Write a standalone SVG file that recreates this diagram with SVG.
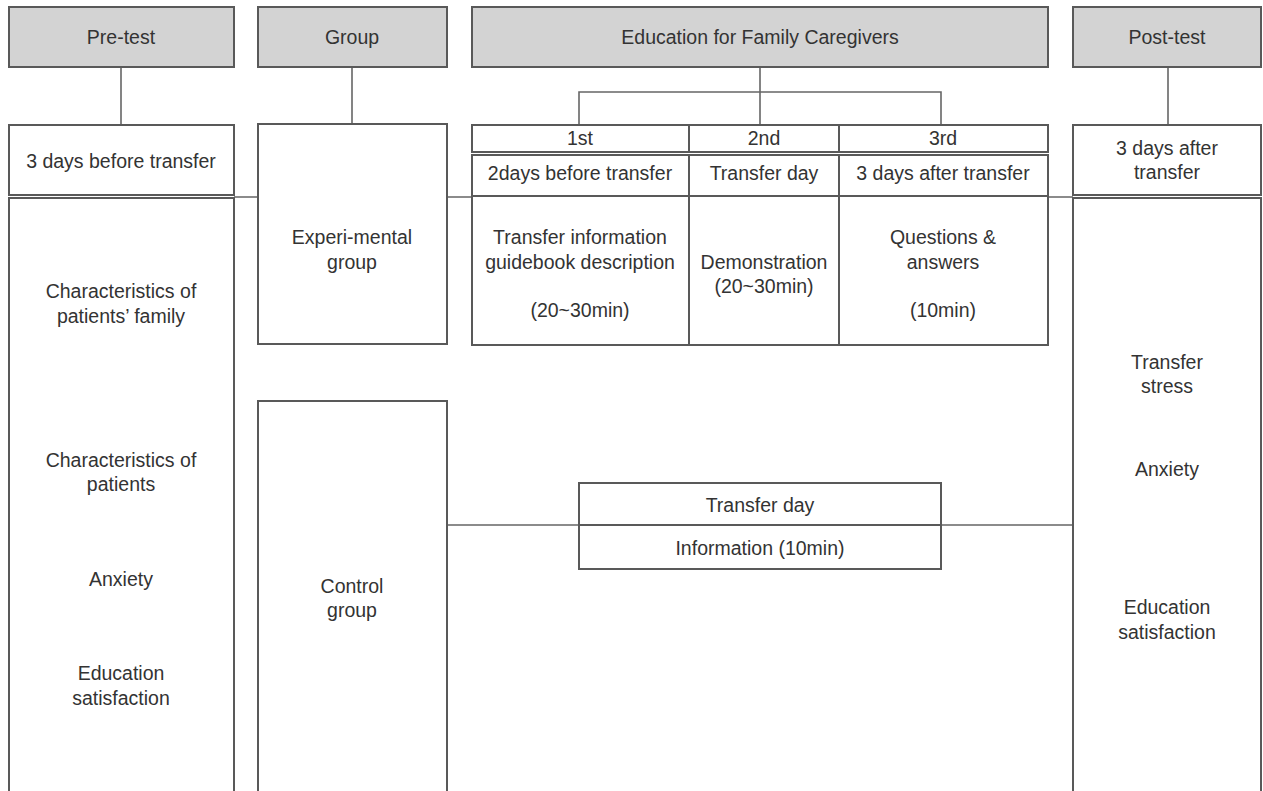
<svg xmlns="http://www.w3.org/2000/svg" width="1263" height="791" viewBox="0 0 1263 791">
<style>
.hd{fill:#d3d3d3;stroke:#595959;stroke-width:2}
.bx{fill:#ffffff;stroke:#595959;stroke-width:2}
.ln{fill:none;stroke:#666;stroke-width:1.6}
text{font-family:"Liberation Sans",Arial,sans-serif;font-size:19.5px;fill:#333;text-anchor:middle}
</style>
<rect width="1263" height="791" fill="#fff"/>
<g id="connectors">
<path class="ln" d="M121 67V125M352 67V124M760 67V124M579 125V92H941V125M1168 67V125"/>
<path class="ln" d="M234 197H258M447 197H472M1048 197H1073M447 525H579M941 525H1073"/>
</g>
<g id="pretest-header"><rect class="hd" x="9" y="7" width="225" height="60"/><text x="121" y="44">Pre-test</text></g>
<g id="group-header"><rect class="hd" x="258" y="7" width="189" height="60"/><text x="352" y="44">Group</text></g>
<g id="education-header"><rect class="hd" x="472" y="7" width="576" height="60"/><text x="760" y="44">Education for Family Caregivers</text></g>
<g id="posttest-header"><rect class="hd" x="1073" y="7" width="188" height="60"/><text x="1167" y="44">Post-test</text></g>
<g id="pretest-time"><rect class="bx" x="9" y="125" width="225" height="70"/><text x="121" y="168">3 days before transfer</text></g>
<g id="pretest-vars"><rect class="bx" x="9" y="198" width="225" height="620"/>
<text x="121" y="298">Characteristics of</text><text x="121" y="323">patients’ family</text>
<text x="121" y="467">Characteristics of</text><text x="121" y="491">patients</text>
<text x="121" y="586">Anxiety</text>
<text x="121" y="680">Education</text><text x="121" y="705">satisfaction</text></g>
<g id="experimental-group"><rect class="bx" x="258" y="124" width="189" height="220"/><text x="352" y="244">Experi-mental</text><text x="352" y="269">group</text></g>
<g id="control-group"><rect class="bx" x="258" y="401" width="189" height="420"/><text x="352" y="593">Control</text><text x="352" y="617">group</text></g>
<g id="session-1st">
<rect class="bx" x="472" y="125" width="217" height="27"/><text x="580" y="145">1st</text>
<rect class="bx" x="472" y="155" width="217" height="41"/><text x="580" y="180">2days before transfer</text>
<rect class="bx" x="472" y="196" width="217" height="149"/><text x="580" y="244">Transfer information</text><text x="580" y="269">guidebook description</text><text x="580" y="317">(20~30min)</text></g>
<g id="session-2nd">
<rect class="bx" x="689" y="125" width="150" height="27"/><text x="764" y="145">2nd</text>
<rect class="bx" x="689" y="155" width="150" height="41"/><text x="764" y="180">Transfer day</text>
<rect class="bx" x="689" y="196" width="150" height="149"/><text x="764" y="269">Demonstration</text><text x="764" y="293">(20~30min)</text></g>
<g id="session-3rd">
<rect class="bx" x="839" y="125" width="209" height="27"/><text x="943" y="145">3rd</text>
<rect class="bx" x="839" y="155" width="209" height="41"/><text x="943" y="180">3 days after transfer</text>
<rect class="bx" x="839" y="196" width="209" height="149"/><text x="943" y="244">Questions &amp;</text><text x="943" y="269">answers</text><text x="943" y="317">(10min)</text></g>
<g id="control-session">
<rect class="bx" x="579" y="483" width="362" height="42"/><text x="760" y="512">Transfer day</text>
<rect class="bx" x="579" y="525" width="362" height="44"/><text x="760" y="555">Information (10min)</text></g>
<g id="posttest-time"><rect class="bx" x="1073" y="125" width="188" height="70"/><text x="1167" y="155">3 days after</text><text x="1167" y="179">transfer</text></g>
<g id="posttest-vars"><rect class="bx" x="1073" y="198" width="188" height="620"/>
<text x="1167" y="369">Transfer</text><text x="1167" y="393">stress</text>
<text x="1167" y="476">Anxiety</text>
<text x="1167" y="614">Education</text><text x="1167" y="639">satisfaction</text></g>
</svg>
